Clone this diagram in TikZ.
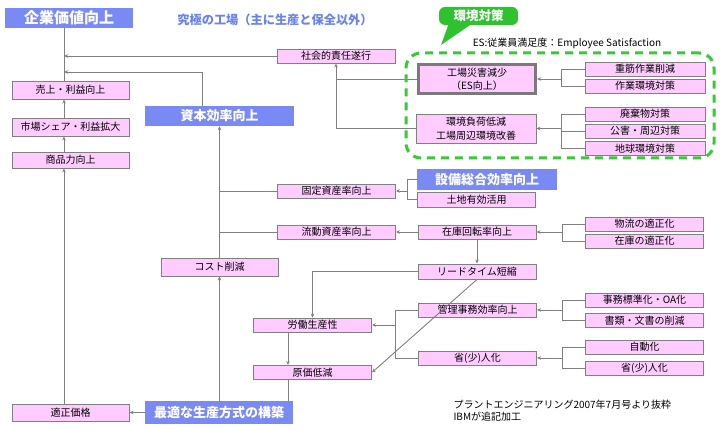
\documentclass[tikz,border=0pt]{standalone}
\usepackage{fontspec}
\setmainfont{Noto Sans CJK JP}
\usetikzlibrary{arrows.meta,calc}
\definecolor{pinkfill}{HTML}{FFCCFF}
\definecolor{edgegray}{HTML}{808080}
\definecolor{hdrblue}{HTML}{7A8AF5}
\definecolor{titleblue}{HTML}{6A82F0}
\definecolor{envgreen}{HTML}{33CC33}
\definecolor{callgreen}{HTML}{2EC22E}
\begin{document}
\begin{tikzpicture}[x=1pt,y=-1pt,
  pbox/.style={draw=edgegray, fill=pinkfill, line width=0.9pt, inner sep=0pt, font=\fontsize{10}{13}\selectfont, align=center, minimum width=118pt, minimum height=14pt},
  hbox/.style={fill=hdrblue, text=white, inner sep=0pt, font=\fontsize{13}{15}\selectfont\bfseries},
  conn/.style={draw=edgegray, line width=0.9pt},
  arr/.style={conn, -{Stealth[length=4pt,width=3.5pt]}},
]
\fill[white] (0,0) rectangle (721,430);
\useasboundingbox (0,0) rectangle (721,430);

% header nodes
\node[hbox, minimum width=128pt, minimum height=20pt, font=\fontsize{15}{17}\selectfont\bfseries] (kigyo) at (69,18) {企業価値向上};
\node[text=titleblue, font=\fontsize{12.2}{14}\selectfont\bfseries] (title) at (275,20) {究極の工場（主に生産と保全以外）};

% left column
\node[pbox, minimum width=117pt, minimum height=18pt] (uri) at (70.5,90) {売上・利益向上};
\node[pbox, minimum width=117pt, minimum height=18pt] (shijo) at (70.5,127) {市場シェア・利益拡大};
\node[pbox, minimum width=117pt, minimum height=16pt] (shohin) at (70.5,160) {商品力向上};
\node[pbox, minimum width=117pt, minimum height=17pt] (tekisei) at (70.5,412.5) {適正価格};

% second column
\node[hbox, minimum width=149pt, minimum height=20pt] (shihon) at (219.5,116) {資本効率向上};
\node[pbox, minimum width=117pt, minimum height=18pt] (cost) at (219.5,267) {コスト削減};
\node[hbox, minimum width=148pt, minimum height=23pt] (saiteki) at (219,412.5) {最適な生産方式の構築};

% third column
\node[pbox] (shakai) at (336,56) {社会的責任遂行};
\node[pbox] (kotei) at (336.5,191) {固定資産率向上};
\node[pbox] (ryudo) at (336.5,232) {流動資産率向上};
\node[pbox] (rodo) at (312.5,325) {労働生産性};
\node[pbox] (genka) at (312.5,372.5) {原価低減};

% fourth column
\node[hbox, minimum width=140pt, minimum height=21pt] (setsubi) at (487,179.5) {設備総合効率向上};
\node[pbox, minimum height=15pt] (tochi) at (476.5,199.5) {土地有効活用};
\node[pbox] (zaiko) at (477,232) {在庫回転率向上};
\node[pbox, minimum height=15pt] (lead) at (477,271.5) {リードタイム短縮};
\node[pbox] (kanri) at (477.5,310) {管理事務効率向上};
\node[pbox] (shojin) at (477.5,358) {省(少)人化};

% right column
\node[pbox] (butsuryu) at (644.5,224) {物流の適正化};
\node[pbox] (zaikoteki) at (644.5,241) {在庫の適正化};
\node[pbox] (jimu) at (644.5,300) {事務標準化・OA化};
\node[pbox] (shorui) at (644.5,320.5) {書類・文書の削減};
\node[pbox] (jido) at (644.5,347) {自動化};
\node[pbox] (shojinb) at (644.5,368) {省(少)人化};

% environment group
\node[pbox, line width=3pt, draw=edgegray!95!black, minimum width=117pt, minimum height=29pt] (kojo) at (477,79) {工場災害減少\\（ES向上）};
\node[pbox, minimum width=120pt, minimum height=29pt, font=\fontsize{10}{14.5}\selectfont] (kankyo) at (476,128.5) {環境負荷低減\\工場周辺環境改善};
\node[pbox, minimum width=120pt] (juukin) at (645,69) {重筋作業削減};
\node[pbox, minimum width=120pt] (sagyo) at (645,86) {作業環境対策};
\node[pbox, minimum width=120pt] (haiki) at (645,114) {廃棄物対策};
\node[pbox, minimum width=120pt] (kogai) at (645,131) {公害・周辺対策};
\node[pbox, minimum width=120pt, minimum height=13.5pt] (chikyu) at (645,148.5) {地球環境対策};

\node[fill=callgreen, rounded corners=6pt, minimum width=79pt, minimum height=18pt, inner sep=0pt, text=white, font=\fontsize{12.5}{14}\selectfont\bfseries] (callout) at (478.5,16) {環境対策};
\fill[callgreen] (449,23) -- (441,45) -- (473,23) -- cycle;
\node[font=\fontsize{10}{12}\selectfont] (estext) at (567,43) {ES:従業員満足度：Employee Satisfaction};

\node[anchor=west, font=\fontsize{10}{12}\selectfont, align=left] (footer) at (450,411) {プラントエンジニアリング2007年7月号より抜粋\\IBMが追記加工};

% connectors
\coordinate (vx) at (64,0);
\draw[conn] (uri.north -| vx) -- (kigyo.south -| vx);
\draw[arr] (shijo.north -| vx) -- (uri.south -| vx);
\draw[arr] (shohin.north -| vx) -- (shijo.south -| vx);
\draw[arr] (tekisei.north -| vx) -- (shohin.south -| vx);
\draw[arr] (shakai.west) -- (shakai.west -| vx);
\coordinate (j1) at (202,72);
\draw[arr] (shihon.north -| j1) -- (j1) -- (j1 -| vx);

\draw[arr] (kankyo.west) -| (shakai.south);
\draw[conn] (kojo.west) -- (kojo.west -| shakai.south);

\coordinate (bxr) at (561,0);
\draw[conn] (juukin.west) -| (bxr |- sagyo.west) -- (sagyo.west);
\draw[arr] (bxr |- kojo.east) -- (kojo.east);
\draw[conn] (haiki.west) -| (bxr |- chikyu.west) -- (chikyu.west);
\draw[conn] (kogai.west) -- (bxr |- kogai.west);
\draw[arr] (bxr |- kankyo.east) -- (kankyo.east);

\coordinate (bxs) at (407,0);
\draw[conn] (setsubi.west) -| (bxs |- tochi.west) -- (tochi.west);
\draw[arr] (bxs |- kotei.east) -- (kotei.east);
\draw[conn] (kotei.west) -- (kotei.west -| shihon.south);
\draw[conn] (ryudo.west) -- (ryudo.west -| shihon.south);
\draw[arr] (cost.north) -- (shihon.south);
\draw[arr] (saiteki.north -| cost.north) -- (cost.south);
\draw[arr] (saiteki.west) -- (tekisei.east);
\draw[arr] (zaiko.west) -- (ryudo.east);

\coordinate (bxt) at (562,0);
\draw[conn] (butsuryu.west) -| (bxt |- zaikoteki.west) -- (zaikoteki.west);
\draw[arr] (bxt |- zaiko.east) -- (zaiko.east);
\draw[arr] (zaiko.south) -- (lead.north);
\draw[arr] (lead.west) -| (rodo.north);
\draw[arr] (lead.south) -- (genka.east);

\coordinate (gx) at (288,0);
\draw[arr] (rodo.south -| gx) -- (genka.north -| gx);
\draw[conn] (genka.south -| gx) -- (saiteki.north -| gx);

\coordinate (bxk) at (395,0);
\draw[conn] (kanri.west) -| (bxk |- shojin.west) -- (shojin.west);
\draw[arr] (bxk |- rodo.east) -- (rodo.east);
\draw[conn] (jimu.west) -| (bxt |- shorui.west) -- (shorui.west);
\draw[arr] (bxt |- kanri.east) -- (kanri.east);
\draw[conn] (jido.west) -| (bxt |- shojinb.west) -- (shojinb.west);
\draw[arr] (bxt |- shojin.east) -- (shojin.east);

% dashed environment frame
\node[draw=envgreen, line width=3pt, dash pattern=on 8pt off 6pt, rounded corners=15pt, minimum width=308pt, minimum height=105pt, inner sep=0pt] (envgroup) at (560,105.5) {};
\end{tikzpicture}
\end{document}
